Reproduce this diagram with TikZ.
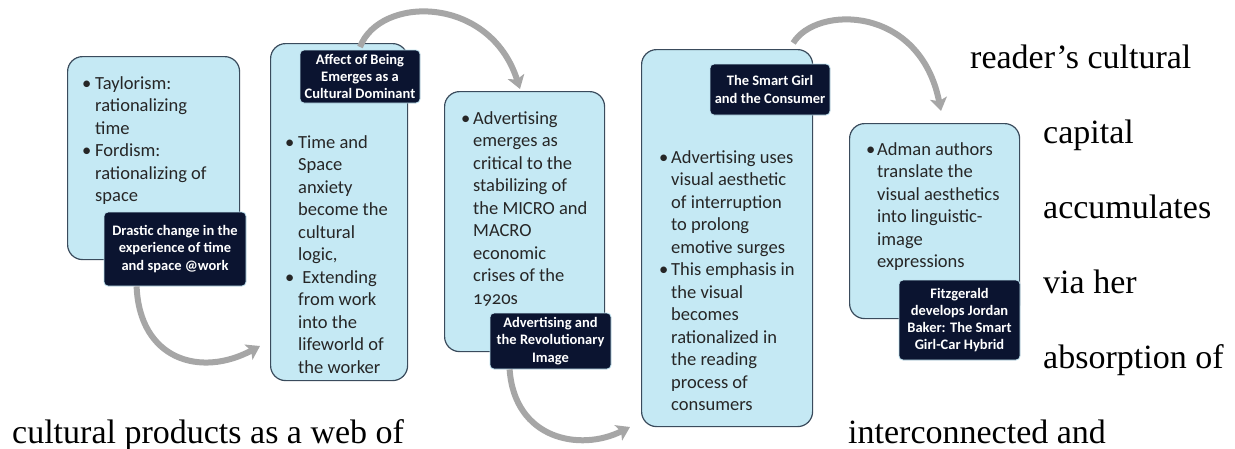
\documentclass[tikz,border=0pt]{standalone}
\usepackage{fontspec}
\setmainfont{Liberation Serif}
\newfontfamily\boxfont[Numbers=OldStyle]{Carlito}
\usetikzlibrary{arrows.meta}
\tikzset{>={Stealth[length=13pt,width=17pt,inset=3pt]}}
\usepackage{xcolor}
\definecolor{boxblue}{HTML}{C5E9F4}
\definecolor{boxline}{HTML}{3A4B5C}
\definecolor{tagnavy}{HTML}{0B1430}
\definecolor{tagline}{HTML}{BFE3F0}
\definecolor{flowgray}{HTML}{A6A6A6}

\tikzset{
  panel/.style={draw=boxline, line width=1.2pt, fill=boxblue,
    rounded corners=15pt, anchor=north west, inner sep=0pt},
  tag/.style={draw=tagline, line width=0.8pt, fill=tagnavy, rounded corners=4pt,
    text=white, align=center, inner sep=0pt,
    font=\boxfont\bfseries\fontsize{14.5}{17.3}\selectfont},
  items/.style={anchor=base west, inner sep=0pt, text=black!85,
    font=\boxfont\fontsize{18.5}{22.5}\selectfont},
  flow/.style={draw=flowgray, line width=6pt, ->},
  prose/.style={anchor=base west, inner sep=0pt, font=\fontsize{34}{40}\selectfont}
}

\begin{document}
\begin{tikzpicture}[x=1pt,y=-1pt]
  \fill[white] (0,0) rectangle (1235,448);
  \useasboundingbox (0,0) rectangle (1235,448);

  % 箭头终点
  \coordinate (e1) at (260,346);
  \coordinate (e2) at (520,89);
  \coordinate (e3) at (630,427);
  \coordinate (e4) at (941,111);

  % 方框
  \node[panel, minimum width=172pt, minimum height=203pt] (b1) at (67,56) {};
  \node[panel, minimum width=137pt, minimum height=337pt] (b2) at (270,43) {};
  \node[panel, minimum width=160pt, minimum height=260pt] (b3) at (444,91) {};
  \node[panel, minimum width=171pt, minimum height=377pt] (b4) at (641,49) {};
  \node[panel, minimum width=170pt, minimum height=195pt] (b5) at (849,123) {};

  % 要点
  \node[items] (l1) at (82,89) {\begin{tabular}[t]{@{}p{13pt}@{}l@{}}
    • & Taylorism:\\ & rationalizing\\ & time\\
    • & Fordism:\\ & rationalizing of\\ & space
  \end{tabular}};
  \node[items] (l2) at (285,148) {\begin{tabular}[t]{@{}p{13pt}@{}l@{}}
    • & Time and\\ & Space\\ & anxiety\\ & become the\\ & cultural\\ & logic,\\
    • & \ Extending\\ & from work\\ & into the\\ & lifeworld of\\ & the worker
  \end{tabular}};
  \node[items] (l3) at (461,124) {\begin{tabular}[t]{@{}p{12pt}@{}l@{}}
    • & Advertising\\ & emerges as\\ & critical to the\\ & stabilizing of\\
      & the MICRO and\\ & MACRO\\ & economic\\ & crises of the\\ & 1920s
  \end{tabular}};
  \node[items] (l4) at (659,163) {\begin{tabular}[t]{@{}p{12pt}@{}l@{}}
    • & Advertising uses\\ & visual aesthetic\\ & of interruption\\ & to prolong\\
      & emotive surges\\
    • & This emphasis in\\ & the visual\\ & becomes\\ & rationalized in\\
      & the reading\\ & process of\\ & consumers
  \end{tabular}};
  \node[items] (l5) at (866,155) {\begin{tabular}[t]{@{}p{11pt}@{}l@{}}
    • & Adman authors\\ & translate the\\ & visual aesthetics\\ & into linguistic-\\
      & image\\ & expressions
  \end{tabular}};

  % 标签
  \node[tag, minimum width=142pt, minimum height=74pt] (t1) at (175,249)
    {Drastic change in the\\experience of time\\and space @work};
  \node[tag, minimum width=120pt, minimum height=53pt] (t2) at (360,76.5)
    {Affect of Being\\Emerges as a\\Cultural Dominant};
  \node[tag, minimum width=121pt, minimum height=56pt] (t3) at (550.5,341)
    {Advertising and\\the Revolutionary\\Image};
  \node[tag, minimum width=120pt, minimum height=51pt] (t4) at (770,89.5)
    {The Smart Girl\\and the Consumer};
  \node[tag, minimum width=121pt, minimum height=80pt] (t5) at (959.5,320)
    {Fitzgerald\\develops Jordan\\Baker: The Smart\\Girl-Car Hybrid};

  % 弯箭头
  \draw[flow] ([xshift=33pt]t1.south west) .. controls +(3,73) and +(-60,32) .. (e1);
  \draw[flow] ([xshift=90pt,yshift=-4pt]b2.north west) .. controls +(20,-52) and +(-30,-94) .. (e2);
  \draw[flow] ([xshift=20pt]t3.south west) .. controls +(5,70) and +(-50,25) .. (e3);
  \draw[flow] ([xshift=-20pt,yshift=6pt]b4.north east) .. controls +(23,-38) and +(-21,-106) .. (e4);

  % 背景文字
  \node[prose] (p1) at (970,68) {reader’s cultural};
  \node[prose] (p2) at (1043,143) {capital};
  \node[prose] (p3) at (1043,218) {accumulates};
  \node[prose] (p4) at (1043,293) {via her};
  \node[prose] (p5) at (1043,368) {absorption of};
  \node[prose] (p6) at (12,443) {cultural products as a web of};
  \node[prose] (p7) at (848,443) {interconnected and};
\end{tikzpicture}
\end{document}
